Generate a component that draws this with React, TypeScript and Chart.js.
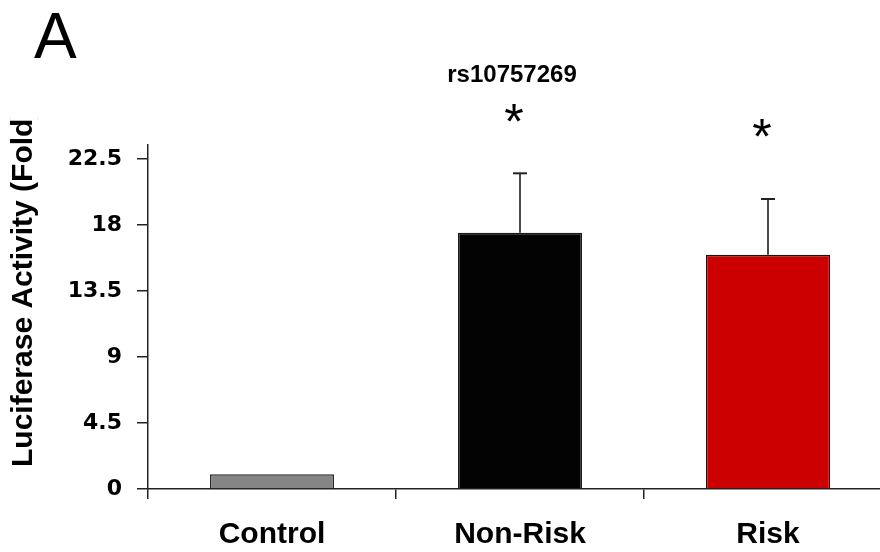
import React, { useEffect, useRef } from "react";
import { Chart, registerables } from "chart.js";

Chart.register(...registerables);

const categories = ["Control", "Non-Risk", "Risk"];
const means = [1.0, 17.47, 15.97];
const errorsPlus = [0, 4.05, 3.8];
const asteriskLevels = [null, 25.6, 24.6];
const yTickValues = [0, 4.5, 9, 13.5, 18, 22.5];
const barColors = ["#858585", "#030303", "#cc0000"];
const barBorders = ["#2a2a2a", "#1a1a1a", "#4a0000"];
const chartTitle = "rs10757269";
const yTitle = "Luciferase Activity (Fold)";
const panelLetter = "A";

const annotations = {
  id: "annotations",
  afterDatasetsDraw(chart: any) {
    const { ctx } = chart;
    const y = chart.scales.y;
    const meta = chart.getDatasetMeta(0);
    ctx.save();
    // error bars
    meta.data.forEach((bar: any, i: number) => {
      const e = errorsPlus[i];
      if (!e) return;
      const x = bar.x;
      const yb = y.getPixelForValue(means[i]);
      const yt = y.getPixelForValue(means[i] + e);
      ctx.strokeStyle = "#4a4a4a";
      ctx.lineWidth = 2;
      ctx.beginPath();
      ctx.moveTo(x, yb);
      ctx.lineTo(x, yt);
      ctx.stroke();
      ctx.strokeStyle = "#222";
      ctx.beginPath();
      ctx.moveTo(x - 7, yt);
      ctx.lineTo(x + 7, yt);
      ctx.stroke();
    });
    // asterisks
    ctx.fillStyle = "#000";
    ctx.font = "50px 'Liberation Sans', Arial, sans-serif";
    ctx.textAlign = "center";
    ctx.textBaseline = "alphabetic";
    meta.data.forEach((bar: any, i: number) => {
      const lv = asteriskLevels[i];
      if (lv == null) return;
      const yc = y.getPixelForValue(lv);
      const m = ctx.measureText("*");
      const off = (m.actualBoundingBoxAscent - m.actualBoundingBoxDescent) / 2;
      ctx.fillText("*", bar.x - 6, yc + off);
    });
    ctx.restore();
  },
  afterDraw(chart: any) {
    const { ctx } = chart;
    ctx.save();
    ctx.fillStyle = "#000";
    // title
    ctx.font = "bold 24px 'Liberation Sans', Arial, sans-serif";
    ctx.textAlign = "center";
    ctx.textBaseline = "middle";
    ctx.fillText(chartTitle, 512, 75);
    // panel letter
    ctx.font = "64px 'Liberation Sans', Arial, sans-serif";
    ctx.textAlign = "left";
    ctx.textBaseline = "alphabetic";
    ctx.fillText(panelLetter, 34, 58);
    // y title (clipped at top like the reference)
    ctx.beginPath();
    ctx.rect(0, 118, 80, 434);
    ctx.clip();
    ctx.translate(24, 467);
    ctx.rotate(-Math.PI / 2);
    ctx.font = "bold 30px 'Liberation Sans', Arial, sans-serif";
    ctx.textAlign = "left";
    ctx.textBaseline = "middle";
    ctx.fillText(yTitle, 0, 0);
    ctx.restore();
  },
};

export default function App() {
  const ref = useRef<HTMLCanvasElement | null>(null);
  useEffect(() => {
    document.body.style.margin = "0";
    const canvas = ref.current;
    if (!canvas) return;
    const axisColor = "#222";
    const chart = new Chart(canvas, {
      type: "bar",
      data: {
        labels: categories,
        datasets: [
          {
            data: means,
            backgroundColor: barColors,
            borderColor: barBorders,
            borderWidth: 1.5,
            barPercentage: 1,
            categoryPercentage: 0.5,
          },
        ],
      },
      options: {
        responsive: false,
        animation: false,
        devicePixelRatio: 1,
        layout: { padding: { top: 145, right: 8, left: 0, bottom: 0 } },
        plugins: { legend: { display: false }, tooltip: { enabled: false }, title: { display: false } },
        scales: {
          x: {
            grid: {
              display: true,
              drawOnChartArea: false,
              offset: true,
              tickLength: 10,
              color: axisColor,
              lineWidth: 1.5,
            },
            border: { display: true, color: axisColor, width: 1.5 },
            ticks: {
              color: "#000",
              font: { family: "'Liberation Sans', Arial, sans-serif", size: 30, weight: "bold" },
              padding: 18,
              maxRotation: 0,
            },
            afterFit: (s: any) => {
              s.height = 63;
            },
          },
          y: {
            min: 0,
            max: 23.45,
            afterBuildTicks: (s: any) => {
              s.ticks = yTickValues.map((v) => ({ value: v }));
            },
            grid: {
              display: true,
              drawOnChartArea: false,
              tickLength: 11,
              color: axisColor,
              lineWidth: 1.5,
            },
            border: { display: true, color: axisColor, width: 1.5 },
            ticks: {
              color: "#000",
              font: { family: "'DejaVu Sans', sans-serif", size: 22, weight: "bold" },
              padding: 15,
              callback: (v: any) => String(v),
            },
            afterFit: (s: any) => {
              s.width = 148;
            },
          },
        },
      },
      plugins: [annotations],
    } as any);
    return () => chart.destroy();
  }, []);
  return (
    <div style={{ width: 880, height: 552, overflow: "hidden", background: "#fff" }}>
      <canvas ref={ref} width={900} height={552} style={{ display: "block" }} />
    </div>
  );
}
